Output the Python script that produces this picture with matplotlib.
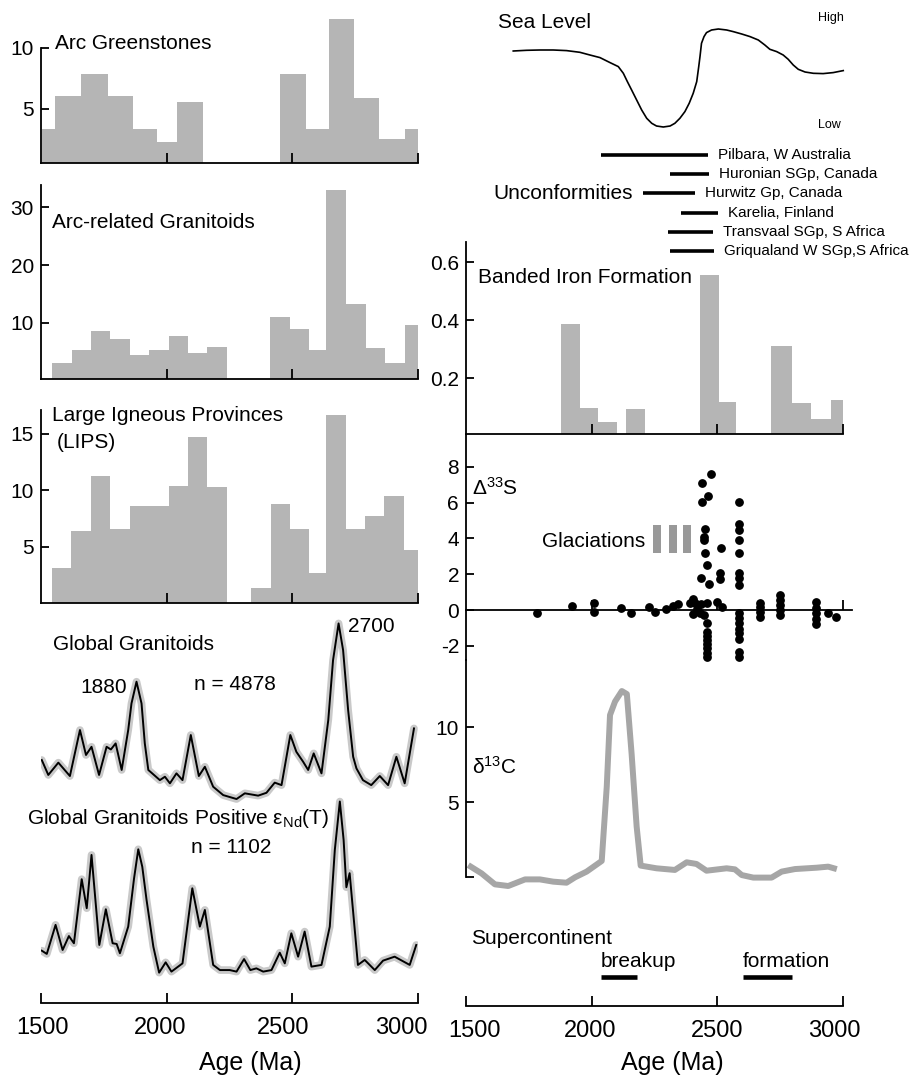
import numpy as np
import matplotlib
matplotlib.use('Agg')
import matplotlib.pyplot as plt
from matplotlib.transforms import ScaledTranslation

plt.rcParams['font.family'] = ['Liberation Sans', 'DejaVu Sans']
plt.rcParams['mathtext.fontset'] = 'custom'
plt.rcParams['mathtext.rm'] = 'Liberation Sans'
plt.rcParams['mathtext.it'] = 'Liberation Sans:italic'
plt.rcParams['mathtext.default'] = 'regular'
plt.rcParams['axes.unicode_minus'] = False

# ---- histogram data (bin left edge, bin right edge, value), ages in Ma ----
green_lo = [1505, 1555, 1660, 1765, 1865, 1960, 2040, 2450, 2555, 2645, 2745, 2845, 2950]
green_hi = [1555, 1660, 1765, 1865, 1960, 2040, 2145, 2555, 2645, 2745, 2845, 2950, 3050]
green_n = [3.4, 6.1, 7.9, 6.1, 3.4, 2.3, 5.6, 7.9, 3.4, 12.4, 5.9, 2.5, 3.4]

gran_lo = [1545, 1625, 1700, 1775, 1855, 1930, 2010, 2085, 2160, 2410, 2490, 2565, 2635, 2715, 2795, 2870, 2950]
gran_hi = [1625, 1700, 1775, 1855, 1930, 2010, 2085, 2160, 2240, 2490, 2565, 2635, 2715, 2795, 2870, 2950, 3025]
gran_n = [3.1, 5.3, 8.6, 7.2, 4.5, 5.3, 7.8, 4.8, 5.9, 11.0, 9.0, 5.3, 32.9, 13.3, 5.7, 3.1, 9.7]

lip_lo = [1545, 1620, 1700, 1775, 1855, 1935, 2010, 2085, 2160, 2335, 2415, 2490, 2565, 2635, 2715, 2790, 2865, 2945]
lip_hi = [1620, 1700, 1775, 1855, 1935, 2010, 2085, 2160, 2240, 2415, 2490, 2565, 2635, 2715, 2790, 2865, 2945, 3025]
lip_n = [3.1, 6.4, 11.3, 6.6, 8.6, 8.6, 10.4, 14.7, 10.3, 1.4, 8.8, 6.6, 2.7, 16.7, 6.6, 7.7, 9.5, 4.7]

bif_lo = [1877, 1953, 2024, 2135, 2431, 2506, 2713, 2796, 2871, 2951]
bif_hi = [1953, 2024, 2102, 2212, 2506, 2573, 2796, 2871, 2951, 3028]
bif_v = [0.386, 0.097, 0.048, 0.093, 0.555, 0.117, 0.31, 0.114, 0.059, 0.124]

# ---- age spectra (relative units) ----
gg_age = [1503, 1529, 1569, 1615, 1655, 1679, 1701, 1731, 1761, 1778, 1797, 1821, 1847, 1860, 1880,
          1900, 1913, 1927, 1973, 1993, 2013, 2039, 2063, 2096, 2128, 2152, 2185, 2225, 2278, 2311,
          2364, 2397, 2430, 2457, 2492, 2516, 2543, 2563, 2585, 2616, 2643, 2662, 2684, 2702, 2722,
          2742, 2755, 2781, 2814, 2848, 2881, 2914, 2947, 2984]
gg_val = [23.4, 15.0, 21.9, 14.4, 40.2, 26.2, 30.8, 15.0, 30.8, 29.3, 32.7, 17.8, 40.2, 55.1, 67.3,
          55.1, 32.7, 17.8, 12.1, 14.0, 10.3, 15.9, 12.1, 37.4, 14.4, 19.6, 8.4, 3.7, 1.5, 4.7,
          3.4, 5.0, 10.7, 9.3, 37.4, 28.0, 22.4, 17.8, 27.1, 15.9, 45.8, 79.4, 100, 85.0, 51.4,
          25.2, 18.7, 12.1, 9.3, 14.4, 9.3, 25.2, 10.3, 41.1]

nd_age = [1503, 1523, 1558, 1586, 1611, 1631, 1662, 1682, 1701, 1732, 1758, 1785, 1801, 1814, 1847,
          1870, 1887, 1903, 1920, 1947, 1970, 1996, 2019, 2063, 2102, 2132, 2152, 2185, 2212, 2251,
          2278, 2308, 2333, 2357, 2384, 2417, 2450, 2470, 2496, 2523, 2549, 2576, 2616, 2649, 2669,
          2689, 2704, 2715, 2728, 2761, 2788, 2828, 2861, 2907, 2967, 2993]
nd_val = [13.2, 11.3, 28.2, 13.6, 21.7, 17.5, 54.8, 37.9, 68.9, 16.5, 37.3, 17.5, 17.1, 11.7, 27.2,
          55.0, 72.2, 62.0, 42.7, 15.5, 0.4, 6.4, 1.0, 5.8, 49.5, 27.2, 36.9, 4.9, 1.9, 1.9,
          1.0, 8.3, 1.9, 2.9, 1.0, 1.9, 12.0, 5.8, 23.3, 9.7, 24.3, 3.9, 4.9, 27.2, 71.8,
          100, 77.7, 50.1, 58.3, 4.9, 7.8, 1.9, 7.4, 9.7, 4.9, 16.5]

# ---- sea level (relative, high up) ----
sl_age = [1688, 1741, 1794, 1847, 1900, 1953, 1993, 2033, 2073, 2106, 2126, 2142, 2159, 2179, 2199,
          2219, 2239, 2258, 2285, 2312, 2331, 2351, 2371, 2388, 2404, 2418, 2426, 2431, 2437, 2447,
          2457, 2477, 2504, 2537, 2563, 2597, 2630, 2663, 2689, 2709, 2736, 2762, 2782, 2802, 2822,
          2849, 2882, 2921, 2961, 3001]
sl_val = [82.3, 83.0, 83.3, 83.3, 82.7, 81.0, 78.3, 75.7, 70.7, 66.7, 60.0, 51.7, 43.3, 33.3, 23.3,
          15.0, 10.0, 7.3, 6.3, 7.3, 10.0, 15.0, 21.7, 30.0, 40.0, 51.7, 66.7, 76.7, 90.0, 96.7,
          100.7, 103.3, 104.3, 103.3, 101.7, 99.3, 96.7, 93.3, 88.3, 84.0, 81.7, 78.3, 74.0, 68.3, 64.0,
          61.3, 60.0, 59.7, 60.7, 62.7]

# ---- unconformities ----
unc_names = ['Pilbara, W Australia', 'Huronian SGp, Canada', 'Hurwitz Gp, Canada',
             'Karelia, Finland', 'Transvaal SGp, S Africa', 'Griqualand W SGp,S Africa']
unc_start = [2036, 2311, 2203, 2354, 2305, 2311]
unc_end = [2464, 2468, 2411, 2504, 2484, 2487]

# ---- delta33S ----
s_age = [1781, 1920, 2009, 2009, 2117, 2156, 2228, 2252, 2294, 2325, 2345, 2391, 2404, 2411, 2402,
         2418, 2431, 2437, 2457, 2447,
         2440, 2473, 2440, 2463, 2450, 2447, 2445, 2451, 2460, 2437, 2468,
         2513, 2509, 2509, 2498, 2518,
         2457, 2457, 2457, 2457, 2457, 2457, 2457, 2457,
         2586, 2586, 2586, 2586, 2586, 2586, 2586, 2586,
         2586, 2586, 2586, 2586, 2586, 2586, 2586, 2586,
         2670, 2670, 2670, 2670, 2749, 2749, 2749, 2749, 2749,
         2892, 2892, 2892, 2892, 2892, 2941, 2972]
s_val = [-0.19, 0.24, 0.41, -0.09, 0.13, -0.19, 0.19, -0.09, 0.06, 0.24, 0.33, 0.37, 0.61, 0.37, -0.24,
         0.06, -0.15, 0.33, 0.37, -0.3,
         7.07, 7.57, 6.05, 6.36, 4.5, 4.09, 3.9, 3.16, 2.51, 1.8, 1.45,
         3.44, 2.08, 1.71, 0.47, 0.19,
         -0.74, -1.21, -1.45, -1.67, -1.9, -2.14, -2.38, -2.6,
         6.05, 4.78, 4.47, 3.9, 3.16, 2.08, 1.77, 1.4,
         -0.15, -0.47, -0.74, -1.08, -1.3, -1.64, -2.33, -2.64,
         0.41, 0.19, -0.09, -0.37, 0.84, 0.56, 0.28, 0.0, -0.28,
         0.47, 0.09, -0.19, -0.5, -0.8, -0.15, -0.41]
glac_age = [2260, 2323, 2380]

# ---- delta13C ----
c_age = [1519, 1562, 1615, 1668, 1735, 1794, 1847, 1900, 1934, 1980, 2040, 2060, 2073, 2093, 2120,
         2140, 2159, 2179, 2195, 2258, 2331, 2378, 2417, 2457, 2537, 2570, 2597, 2643, 2716, 2756,
         2809, 2895, 2941, 2964]
c_val = [0.69, 0.24, -0.49, -0.6, -0.16, -0.16, -0.31, -0.38, -0.02, 0.36, 1.07, 6.02, 10.8, 11.7, 12.4,
         12.2, 8.2, 3.36, 0.76, 0.58, 0.47, 0.98, 0.87, 0.42, 0.58, 0.51, 0.13, -0.04, -0.04, 0.36,
         0.53, 0.62, 0.69, 0.58]

# ---- supercontinent ----
sc_names = ['breakup', 'formation']
sc_start = [2036, 2601]
sc_end = [2182, 2796]

age_ticks = [1500, 2000, 2500, 3000]

BAR = '#b5b5b5'
FS = 15
W, H = 912, 1078
fig = plt.figure(figsize=(W / 100, H / 100), dpi=100)


def panel(x0, y0, x1, y1, ylim):
    # axes placed by pixel box
    ax = fig.add_axes([x0 / W, 1 - y1 / H, (x1 - x0) / W, (y1 - y0) / H])
    ax.set_xlim(1500, 3000)
    ax.set_ylim(*ylim)
    ax.patch.set_visible(False)
    for s in ax.spines.values():
        s.set_visible(False)
    ax.set_xticks([])
    ax.set_yticks([])
    return ax


def hist_axes(ax, yticks, ylabels, top):
    ax.spines['left'].set_visible(True)
    ax.spines['bottom'].set_visible(True)
    ax.spines['left'].set_bounds(ax.get_ylim()[0], top)
    for s in ['left', 'bottom']:
        ax.spines[s].set_linewidth(1.3)
    ax.set_yticks(yticks)
    ax.set_yticklabels(ylabels)
    ax.set_xticks([2000, 2500, 3000])
    ax.tick_params(axis='x', direction='in', length=7, width=1.3, labelbottom=False)
    ax.tick_params(axis='y', direction='in', length=6, width=1.3, labelsize=15, pad=5)


def bars(ax, lo, hi, v):
    ax.bar(lo, v, width=np.subtract(hi, lo), align='edge', color=BAR, linewidth=0)


def spectrum(ax, age, val):
    ax.plot(age, val, color='#c9c9c9', lw=5.5, solid_joinstyle='round', solid_capstyle='round')
    ax.plot(age, val, color='black', lw=1.4, solid_joinstyle='round')


# ================= left column =================
ax1 = panel(41, 15, 418, 163, (0.574, 12.7))
bars(ax1, green_lo, green_hi, green_n)
hist_axes(ax1, [5, 10], ['5', '10'], 10)
ax1.text(1556, 10.4, 'Arc Greenstones', fontsize=FS, va='center')

ax2 = panel(41, 180, 418, 379, (0.34, 34.66))
bars(ax2, gran_lo, gran_hi, gran_n)
hist_axes(ax2, [10, 20, 30], ['10', '20', '30'], 33.8)
ax2.text(1544, 27.4, 'Arc-related Granitoids', fontsize=FS, va='center')

ax3 = panel(41, 405, 418, 603, (0.03, 17.55))
bars(ax3, lip_lo, lip_hi, lip_n)
hist_axes(ax3, [5, 10, 15], ['5', '10', '15'], 17.1)
ax3.text(1544, 16.6, 'Large Igneous Provinces', fontsize=FS, va='center')
ax3.text(1564, 14.2, '(LIPS)', fontsize=FS, va='center')

ax4 = panel(41, 612, 418, 805, (-1.85, 106.4))
spectrum(ax4, gg_age, gg_val)
ax4.text(1548, 87.9, 'Global Granitoids', fontsize=FS, va='center')
ax4.text(1751, 63.8, '1880', fontsize=FS, va='center', ha='center')
ax4.text(2272, 65.5, 'n = 4878', fontsize=FS, va='center', ha='center')
ax4.text(2722, 98, '2700', fontsize=FS, va='center')

ax5 = panel(41, 795, 418, 990, (-9.7, 103.8))
spectrum(ax5, nd_age, nd_val)
ax5.text(1444, 89.9, r'Global Granitoids Positive ε$_{Nd}$(T)', fontsize=FS, va='center')
ax5.text(2256, 73.1, 'n = 1102', fontsize=FS, va='center', ha='center')


def age_axis(x0, x1, y, shifts):
    ax = panel(x0, y - 13, x1, y, (0, 1))
    ax.spines['bottom'].set_visible(True)
    ax.spines['bottom'].set_linewidth(1.3)
    ax.set_xticks(age_ticks)
    ax.tick_params(axis='x', direction='in', length=7.5, width=1.3, labelsize=17, pad=10)
    # labels in the original sit slightly off their ticks
    for lab, dx in zip(ax.get_xticklabels(), shifts):
        lab.set_transform(lab.get_transform() + ScaledTranslation(dx / 100, 0, fig.dpi_scale_trans))
    return ax


age_axis(41, 418, 1003, [1, -7, -9, -17])
fig.text(250 / W, 1 - 1063 / H, 'Age (Ma)', fontsize=18, ha='center', va='center')

# ================= right column =================
ax7 = panel(466, 0, 843, 140, (-6.7, 133.3))
ax7.plot(sl_age, sl_val, color='black', lw=1.2, clip_on=False)
ax7.text(1627, 111.3, 'Sea Level', fontsize=FS, va='center')
ax7.text(2901, 115.3, 'High', fontsize=9, va='center')
ax7.text(2901, 8.3, 'Low', fontsize=9, va='center')

ax8 = panel(466, 145.4, 843, 260.6, (5.5, -0.5))
rows = np.arange(len(unc_names))
ax8.hlines(rows, unc_start, unc_end, color='black', lw=2.6)
for r, name, e in zip(rows, unc_names, unc_end):
    ax8.annotate(name, (e, r), xytext=(7, 0), textcoords='offset points',
                 va='center', fontsize=11, annotation_clip=False)
ax8.annotate('Unconformities', (unc_start[2], 2), xytext=(-7, 0), textcoords='offset points',
             va='center', ha='right', fontsize=FS)

ax9 = panel(466, 238, 843, 434, (0.0069, 0.683))
bars(ax9, bif_lo, bif_hi, bif_v)
hist_axes(ax9, [0.2, 0.4, 0.6], ['0.2', '0.4', '0.6'], 0.669)
ax9.text(1548, 0.548, 'Banded Iron Formation', fontsize=FS, va='center')

ax10 = panel(466, 435, 843, 660, (-2.79, 9.77))
ax10.spines['left'].set_visible(True)
ax10.spines['left'].set_linewidth(1.3)
ax10.spines['bottom'].set_visible(True)
ax10.spines['bottom'].set_linewidth(1.3)
ax10.spines['bottom'].set_position(('data', 0))
ax10.spines['bottom'].set_bounds(1500, 3034)
ax10.set_xticks([2000, 2500, 3000])
ax10.tick_params(axis='x', direction='in', length=7, width=1.3, labelbottom=False)
ax10.set_yticks([-2, 0, 2, 4, 6, 8])
ax10.tick_params(axis='y', direction='in', length=6, width=1.3, labelsize=15, pad=5)
ax10.bar(glac_age, 1.55, bottom=3.2, width=30, color='#999999', linewidth=0)
ax10.scatter(s_age, s_val, s=28, color='black', zorder=3, clip_on=False)
ax10.text(1525, 6.8, r'$\Delta^{33}$S', fontsize=15, va='center')
ax10.text(2212, 3.85, 'Glaciations', fontsize=FS, va='center', ha='right')

ax11 = panel(466, 660, 843, 880, (-0.2, 14.47))
ax11.spines['left'].set_visible(True)
ax11.spines['left'].set_linewidth(1.3)
ax11.spines['left'].set_bounds(0, 14.47)
ax11.set_yticks([0, 5, 10])
ax11.set_yticklabels(['', '5', '10'])
ax11.tick_params(axis='y', direction='in', length=6, width=1.3, labelsize=15, pad=5)
ax11.plot(c_age, c_val, color='#a6a6a6', lw=4.3, clip_on=False, solid_joinstyle='round')
ax11.text(1524, 7.33, r'$\delta^{13}$C', fontsize=15, va='center')

ax12 = panel(466, 925, 843, 990, (0, 1))
ax12.hlines([0.2] * len(sc_names), sc_start, sc_end, color='black', lw=3.3)
for name, s in zip(sc_names, sc_start):
    ax12.text(s, 0.446, name, fontsize=FS, va='center')
ax12.text(1520, 0.8, 'Supercontinent', fontsize=FS, va='center')

age_axis(466, 843, 1006, [9, -2, 0, -9])
fig.text(672 / W, 1 - 1063 / H, 'Age (Ma)', fontsize=18, ha='center', va='center')

fig.savefig('out.png', dpi=100)
